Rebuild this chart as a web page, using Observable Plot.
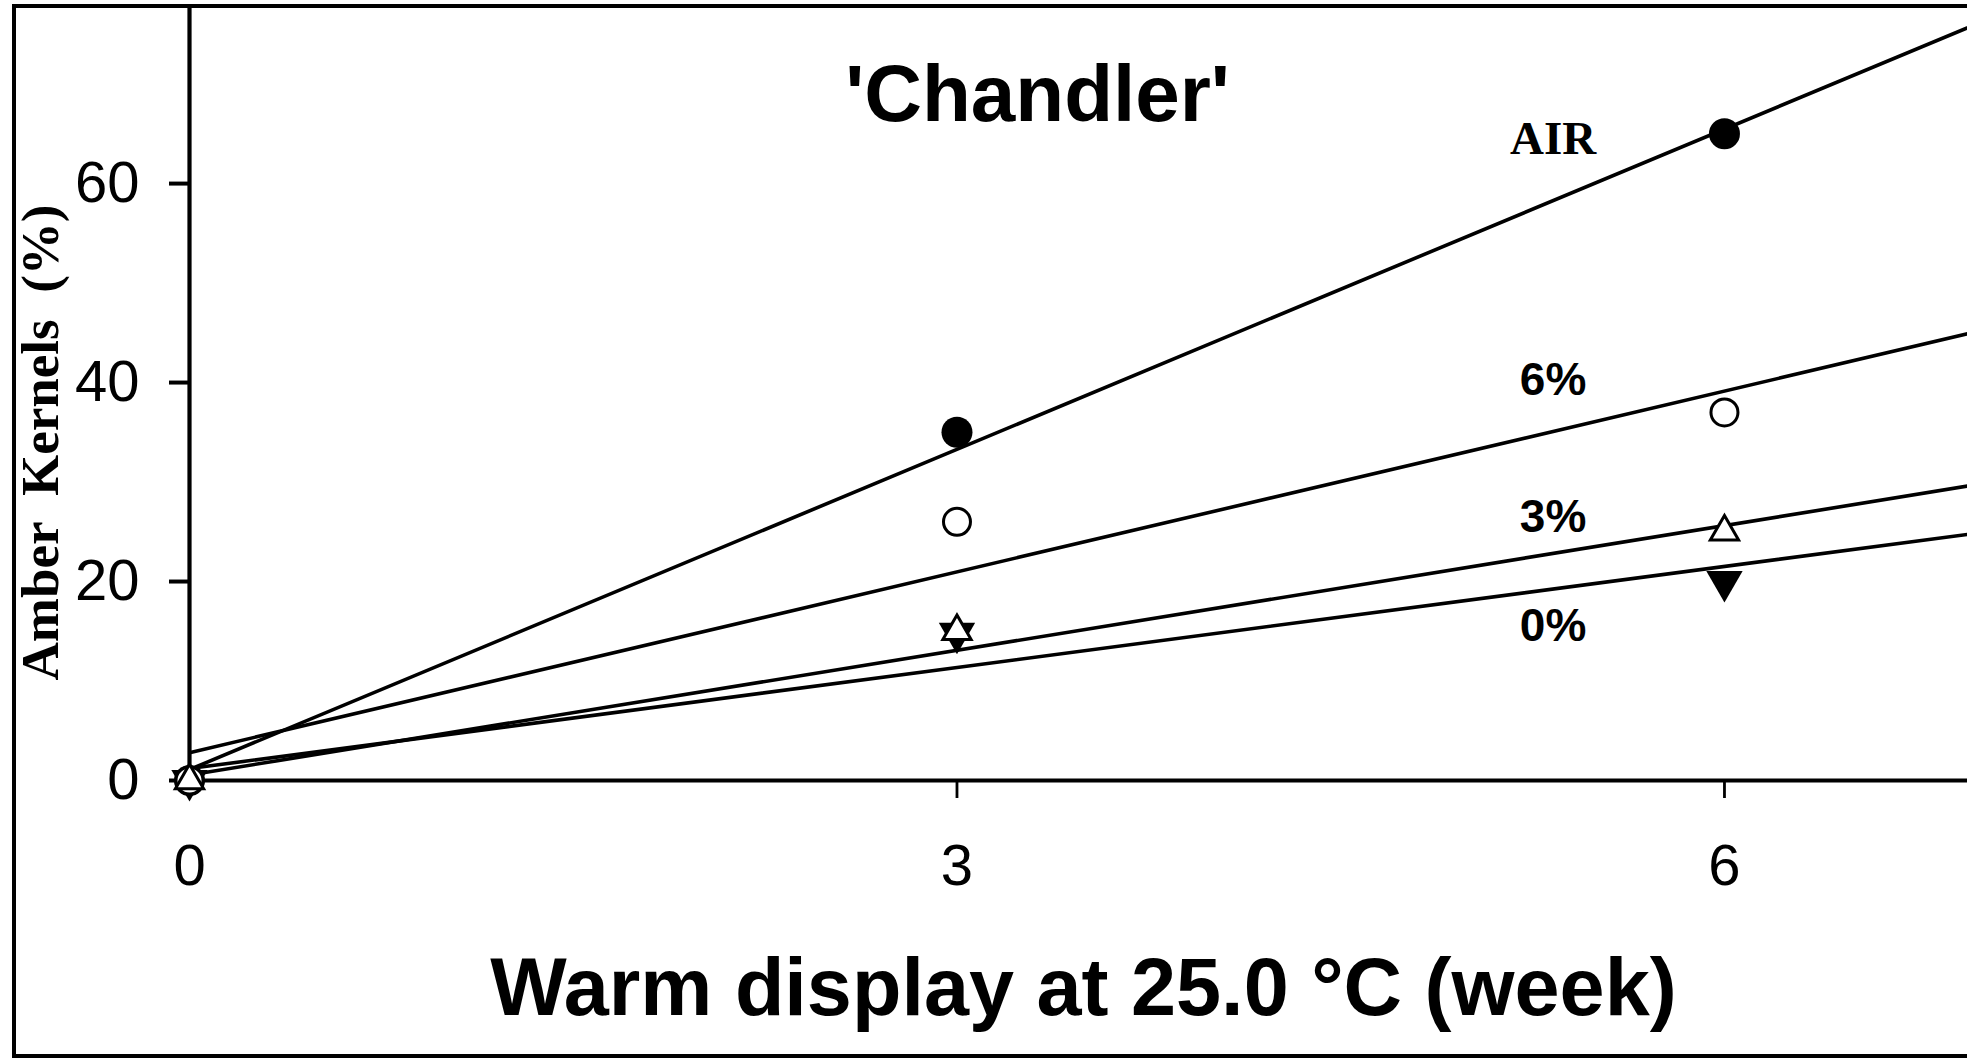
<!DOCTYPE html>
<html>
<head>
<meta charset="utf-8">
<script src="https://cdn.jsdelivr.net/npm/d3@7"></script>
<script src="https://cdn.jsdelivr.net/npm/@observablehq/plot@0.6"></script>
<style>
html, body { margin: 0; padding: 0; background: #fff; }
#wrap { position: relative; width: 1967px; height: 1061px; overflow: hidden; background: #fff; }
#chart { position: absolute; left: 0; top: 0; }
#frame { position: absolute; left: 12px; top: 4px; width: 2100px; height: 1054px; border: 4.5px solid #000; box-sizing: border-box; pointer-events: none; }
</style>
</head>
<body>
<div id="wrap"><div id="chart"></div><div id="frame"></div></div>
<script>
// ---- data ----
const weeks = [0, 3, 6];
const groups = ["AIR", "6%", "3%", "0%"];
const amberAir = [0, 35, 65];
const amber6 = [0, 26, 37];
const amber3 = [0, 15, 25];
const amber0 = [0, 14.8, 20];
// fitted regression lines: value at week 0 and at week 7
const fitWeeks = [0, 7];
const fitAir = [1.1, 76.2];
const fit6 = [2.8, 45.2];
const fit3 = [0.55, 29.8];
const fit0 = [1.2, 24.9];
// series labels (week, value of baseline)
const labelWeek = [5.33, 5.33, 5.33, 5.33];
const labelValue = [63, 38.7, 25, 14];
const xTicks = [0, 3, 6];
const yTicks = [0, 20, 40, 60];
const titleText = "'Chandler'";
const xTitle = "Warm display at 25.0 °C (week)";
const yTitle = "Amber  Kernels  (%)";

// ---- build tables ----
const valuesBy = {"AIR": amberAir, "6%": amber6, "3%": amber3, "0%": amber0};
const fitsBy = {"AIR": fitAir, "6%": fit6, "3%": fit3, "0%": fit0};
const points = groups.flatMap(g => weeks.map((w, i) => ({group: g, week: w, value: valuesBy[g][i]})));
const fits = groups.flatMap(g => fitWeeks.map((w, i) => ({group: g, week: w, value: fitsBy[g][i]})));
const labels = groups.map((g, i) => ({group: g, week: labelWeek[i], value: labelValue[i]}));

const triangleDown = {
  draw(context, size) {
    const y = -Math.sqrt(size / (3 * Math.sqrt(3)));
    context.moveTo(0, -2 * y);
    context.lineTo(-Math.sqrt(3) * y, y);
    context.lineTo(Math.sqrt(3) * y, y);
    context.closePath();
  }
};

const sans = "'Liberation Sans', Arial, sans-serif";
const serif = "'Liberation Serif', 'Times New Roman', serif";

const chart = Plot.plot({
  width: 1967,
  height: 1061,
  marginLeft: 189,
  marginRight: 0,
  marginTop: 4,
  marginBottom: 281,
  style: {fontFamily: sans, background: "transparent", color: "#000", overflow: "visible"},
  x: {domain: [0, 6.95]},
  y: {domain: [0, 78]},
  marks: [
    Plot.line(fits, {x: "week", y: "value", z: "group", stroke: "#000", strokeWidth: 3.6, clip: true}),
    Plot.ruleX([0], {stroke: "#000", strokeWidth: 4.2}),
    Plot.ruleY([0], {stroke: "#000", strokeWidth: 4.2}),
    Plot.axisY({ticks: yTicks, tickSize: 20, tickPadding: 30, fontSize: 58, label: null, strokeWidth: 4, tickFormat: d3.format("d")}),
    Plot.axisX({ticks: xTicks, tickSize: 18, tickPadding: 45, fontSize: 58, label: null, strokeWidth: 2.8, tickFormat: d3.format("d")}),
    Plot.dot(points.filter(d => d.group === "AIR"), {x: "week", y: "value", symbol: "circle", r: 15.5, fill: "#000", stroke: "none"}),
    Plot.dot(points.filter(d => d.group === "0%"), {x: "week", y: "value", symbol: triangleDown, r: 13.5, fill: "#000", stroke: "none"}),
    Plot.dot(points.filter(d => d.group === "6%"), {x: "week", y: "value", symbol: "circle", r: 13.5, fill: "#fff", stroke: "#000", strokeWidth: 3}),
    Plot.dot(points.filter(d => d.group === "3%"), {x: "week", y: "value", symbol: "triangle", r: 10.5, fill: "#fff", stroke: "#000", strokeWidth: 3}),
    Plot.text(labels.filter(d => d.group === "AIR"), {x: "week", y: "value", text: "group", lineAnchor: "bottom", fontSize: 47, fontWeight: "bold", fontFamily: serif, fill: "#000"}),
    Plot.text(labels.filter(d => d.group !== "AIR"), {x: "week", y: "value", text: "group", lineAnchor: "bottom", fontSize: 46, fontWeight: "bold", fontFamily: sans, fill: "#000"}),
    Plot.text([titleText], {text: d => d, frameAnchor: "top", textAnchor: "middle", dx: -41, dy: 116, lineAnchor: "bottom", fontSize: 80, fontWeight: "bold", fontFamily: sans, fill: "#000"}),
    Plot.text([xTitle], {text: d => d, frameAnchor: "bottom", textAnchor: "middle", dx: 5, dy: 234, lineAnchor: "bottom", fontSize: 81, fontWeight: "bold", fontFamily: sans, fill: "#000"}),
    Plot.text([yTitle], {text: d => d, frameAnchor: "left", textAnchor: "middle", dx: -148, dy: 50, rotate: -90, lineAnchor: "middle", fontSize: 53, fontWeight: "bold", fontFamily: serif, fill: "#000"})
  ]
});
document.getElementById("chart").appendChild(chart);
</script>
</body>
</html>
